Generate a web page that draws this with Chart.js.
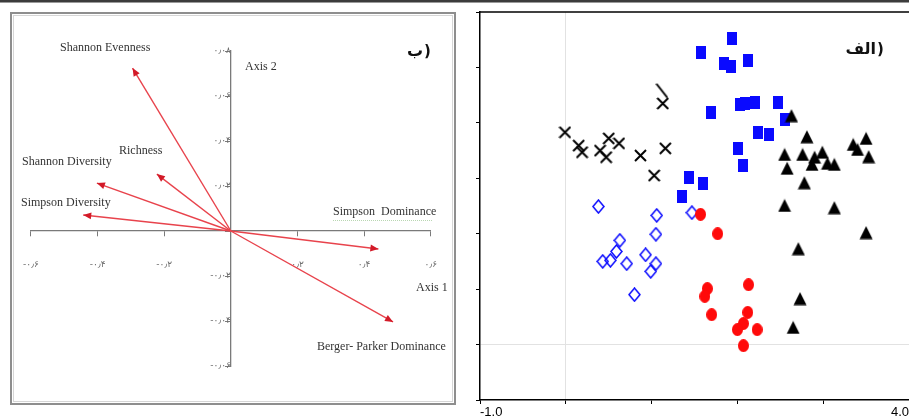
<!DOCTYPE html>
<html>
<head>
<meta charset="utf-8">
<script src="https://cdn.jsdelivr.net/npm/chart.js@4.4.1/dist/chart.umd.min.js"></script>
<style>
  html, body { margin: 0; padding: 0; background: #fff; }
  body { width: 909px; height: 419px; overflow: hidden; position: relative; }
  #topRule { position: absolute; left: 0; top: 0; width: 909px; height: 2px; background: #3c3c3c; border-bottom: 1px solid #9a9a9a; }
  #biplot { position: absolute; left: 0; top: 0; }
  #scatter { position: absolute; left: 460px; top: 0; }
</style>
</head>
<body>
<div id="topRule"></div>
<canvas id="biplot" width="460" height="419"></canvas>
<canvas id="scatter" width="450" height="419"></canvas>

<script>
/* ================================
   Data - biplot (panel ب)
================================ */
const arrowNames = [
  "Shannon Evenness",
  "Richness",
  "Shannon Diversity",
  "Simpson Diversity",
  "Simpson  Dominance",
  "Berger- Parker Dominance"
];
const arrowX = [-0.295, -0.222, -0.402, -0.443, 0.443, 0.487];
const arrowY = [0.0724, 0.0253, 0.0213, 0.0071, -0.008, -0.0404];

const biplotXTicks = ["-۰٫۶", "-۰٫۴", "-۰٫۲", "", "۰٫۲", "۰٫۴", "۰٫۶"];
const biplotYTicks = ["-۰٫۰۶", "-۰٫۰۴", "-۰٫۰۲", "", "۰٫۰۲", "۰٫۰۴", "۰٫۰۶", "۰٫۰۸"];

/* ================================
   Data - scatter (panel الف)
================================ */
const triangleX = [2.63, 2.81, 2.55, 2.76, 2.90, 2.99, 3.05, 3.13, 2.87, 2.58, 2.78, 3.35, 3.40, 3.50, 3.53, 2.55, 3.13, 3.50, 2.71, 2.73, 2.65];
const triangleY = [4.13, 3.75, 3.43, 3.43, 3.38, 3.47, 3.27, 3.25, 3.25, 3.18, 2.92, 3.61, 3.52, 3.72, 3.39, 2.51, 2.47, 2.02, 1.73, 0.83, 0.31];

const circleX = [1.57, 1.77, 2.13, 1.65, 1.62, 1.70, 2.12, 2.07, 2.00, 2.23, 2.07];
const circleY = [2.35, 2.00, 1.08, 1.01, 0.87, 0.54, 0.58, 0.38, 0.27, 0.27, -0.02];

const squareX = [1.94, 1.58, 1.84, 1.93, 2.12, 1.69, 2.03, 2.09, 2.20, 2.47, 2.55, 2.24, 2.37, 2.01, 2.07, 1.44, 1.60, 1.36];
const squareY = [5.52, 5.27, 5.07, 5.02, 5.13, 4.19, 4.33, 4.35, 4.37, 4.37, 4.06, 3.83, 3.79, 3.54, 3.23, 3.01, 2.91, 2.67];

const diamondX = [0.38, 1.06, 1.47, 1.05, 0.63, 0.59, 0.52, 0.43, 0.71, 0.93, 1.05, 0.99, 0.80];
const diamondY = [2.49, 2.33, 2.38, 1.99, 1.88, 1.68, 1.52, 1.50, 1.46, 1.62, 1.46, 1.32, 0.90];

const crossX = [-0.01, 0.15, 0.19, 0.40, 0.47, 0.50, 0.62, 0.87, 1.16, 1.03, 1.13];
const crossY = [3.83, 3.59, 3.47, 3.50, 3.38, 3.72, 3.63, 3.41, 3.54, 3.05, 4.35];

// half-drawn marker above the top cross
const strokeX = [1.12];
const strokeY = [4.58];

const scatterXTicks = ["-1.0", "", "", "", "", "4.0"];

/* ================================
   Helpers
================================ */
function zip(xs, ys) {
  return xs.map((x, i) => ({ x, y: ys[i] }));
}

function makeMarker(w, h, draw) {
  const c = document.createElement("canvas");
  c.width = w;
  c.height = h;
  draw(c.getContext("2d"), w, h);
  return c;
}

// panel letter: Persian word and its paren drawn apart, so bidi can't flip them
function drawPanelTag(ctx, word, rightEdge, y) {
  ctx.save();
  ctx.fillStyle = "#111";
  ctx.font = "bold 16px 'DejaVu Sans', sans-serif";
  ctx.textBaseline = "middle";
  ctx.textAlign = "right";
  ctx.fillText(word, rightEdge, y);
  ctx.textAlign = "left";
  ctx.font = "bold 15px 'DejaVu Sans', sans-serif";
  ctx.fillText(")", rightEdge + 1, y);
  ctx.restore();
}

const BLUE = "#0a0aff";
const RED = "#ff0a0a";
const ARROW_RED = "#e8434c";

const squareMarker = makeMarker(10, 13, (ctx, w, h) => {
  ctx.fillStyle = BLUE;
  ctx.fillRect(0, 0, w, h);
});

const circleMarker = makeMarker(11, 13, (ctx, w, h) => {
  ctx.fillStyle = RED;
  ctx.beginPath();
  ctx.ellipse(w / 2, h / 2, w / 2, h / 2, 0, 0, Math.PI * 2);
  ctx.fill();
});

const triangleMarker = makeMarker(14, 14, (ctx, w, h) => {
  ctx.fillStyle = "#000";
  ctx.beginPath();
  ctx.moveTo(w / 2, 0.5);
  ctx.lineTo(w - 0.5, h - 0.5);
  ctx.lineTo(0.5, h - 0.5);
  ctx.closePath();
  ctx.fill();
});

const diamondMarker = makeMarker(13, 15, (ctx, w, h) => {
  ctx.strokeStyle = BLUE;
  ctx.lineWidth = 1.5;
  ctx.beginPath();
  ctx.moveTo(w / 2, 1);
  ctx.lineTo(w - 1, h / 2);
  ctx.lineTo(w / 2, h - 1);
  ctx.lineTo(1, h / 2);
  ctx.closePath();
  ctx.stroke();
});

const crossMarker = makeMarker(13, 13, (ctx, w, h) => {
  ctx.strokeStyle = "#000";
  ctx.lineWidth = 2;
  ctx.beginPath();
  ctx.moveTo(1, 1);
  ctx.lineTo(w - 1, h - 1);
  ctx.moveTo(w - 1, 1);
  ctx.lineTo(1, h - 1);
  ctx.stroke();
});

const strokeMarker = makeMarker(13, 16, (ctx, w, h) => {
  ctx.strokeStyle = "#000";
  ctx.lineWidth = 2;
  ctx.beginPath();
  ctx.moveTo(1, 1);
  ctx.lineTo(w - 1, h - 1);
  ctx.stroke();
});

/* ================================
   Biplot decorations (box, arrowheads, labels)
================================ */
const biplotDecor = {
  id: "biplotDecor",
  beforeDraw(chart) {
    const ctx = chart.ctx;
    ctx.save();
    ctx.strokeStyle = "#8e8e8e";
    ctx.lineWidth = 2;
    ctx.strokeRect(11, 13, 444, 391);
    ctx.strokeStyle = "#d6d6d6";
    ctx.lineWidth = 1;
    ctx.strokeRect(13.5, 15.5, 439, 386);
    ctx.restore();
  },
  afterDatasetsDraw(chart) {
    const ctx = chart.ctx;
    ctx.save();
    ctx.fillStyle = "#d31a28";
    chart.data.datasets.forEach((ds, i) => {
      const pts = chart.getDatasetMeta(i).data;
      const a = pts[0], b = pts[1];
      const ang = Math.atan2(b.y - a.y, b.x - a.x);
      const len = 8, half = 3.5;
      ctx.beginPath();
      ctx.moveTo(b.x, b.y);
      ctx.lineTo(b.x - len * Math.cos(ang) + half * Math.sin(ang), b.y - len * Math.sin(ang) - half * Math.cos(ang));
      ctx.lineTo(b.x - len * Math.cos(ang) - half * Math.sin(ang), b.y - len * Math.sin(ang) + half * Math.cos(ang));
      ctx.closePath();
      ctx.fill();
    });

    ctx.fillStyle = "#333";
    ctx.font = "12px 'Liberation Serif', 'DejaVu Serif', serif";
    ctx.textBaseline = "middle";
    ctx.textAlign = "left";
    const labels = [
      [arrowNames[0], 60, 48],
      ["Axis 2", 245, 67],
      [arrowNames[1], 119, 151],
      [arrowNames[2], 22, 162],
      [arrowNames[3], 21, 203],
      [arrowNames[4], 333, 212],
      ["Axis 1", 416, 288],
      [arrowNames[5], 317, 347]
    ];
    labels.forEach(([t, x, y]) => ctx.fillText(t, x, y));

    // faint underline under Simpson Dominance
    ctx.strokeStyle = "#b9d7b2";
    ctx.setLineDash([1, 1]);
    ctx.beginPath();
    ctx.moveTo(333, 220.5);
    ctx.lineTo(433, 220.5);
    ctx.stroke();
    ctx.setLineDash([]);
    ctx.restore();

    drawPanelTag(ctx, "ب", 423, 52);
  }
};

/* ================================
   Biplot chart
================================ */
new Chart(document.getElementById("biplot"), {
  type: "scatter",
  data: {
    datasets: arrowNames.map((name, i) => ({
      label: name,
      data: [{ x: 0, y: 0 }, { x: arrowX[i], y: arrowY[i] }],
      showLine: true,
      borderColor: ARROW_RED,
      borderWidth: 1.4,
      pointRadius: 0
    }))
  },
  options: {
    responsive: false,
    animation: false,
    events: [],
    layout: { autoPadding: false, padding: { left: 28, right: 19, top: 51, bottom: 53 } },
    plugins: { legend: { display: false }, tooltip: { enabled: false } },
    scales: {
      x: {
        type: "linear",
        min: -0.6,
        max: 0.6,
        position: { y: 0 },
        afterFit: s => { s.height = 0; },
        grid: { drawOnChartArea: false, tickLength: 5, color: "#7a7a7a" },
        border: { color: "#7a7a7a", width: 1.3 },
        ticks: {
          stepSize: 0.2,
          padding: 23,
          color: "#6a6a6a",
          font: { size: 9, family: "'DejaVu Sans', sans-serif" },
          callback: (v, i) => biplotXTicks[i]
        }
      },
      y: {
        type: "linear",
        min: -0.06,
        max: 0.08,
        position: { x: 0 },
        afterFit: s => { s.width = 0; },
        grid: { drawOnChartArea: false, tickLength: 5, color: "#7a7a7a" },
        border: { color: "#7a7a7a", width: 1.3 },
        ticks: {
          stepSize: 0.02,
          padding: 3,
          color: "#6a6a6a",
          font: { size: 9, family: "'DejaVu Sans', sans-serif" },
          callback: (v, i) => biplotYTicks[i]
        }
      }
    }
  },
  plugins: [biplotDecor]
});

/* ================================
   Scatter decorations (top frame, label)
================================ */
const scatterDecor = {
  id: "scatterDecor",
  afterDraw(chart) {
    const { ctx, chartArea } = chart;
    ctx.save();
    ctx.strokeStyle = "#000";
    ctx.lineWidth = 1.5;
    ctx.beginPath();
    ctx.moveTo(chartArea.left, chartArea.top);
    ctx.lineTo(chartArea.right, chartArea.top);
    ctx.stroke();
    ctx.restore();

    drawPanelTag(ctx, "الف", 416, 50);
  }
};

/* ================================
   Scatter chart
================================ */
new Chart(document.getElementById("scatter"), {
  type: "scatter",
  data: {
    datasets: [
      { label: "triangle", data: zip(triangleX, triangleY), pointStyle: triangleMarker },
      { label: "circle", data: zip(circleX, circleY), pointStyle: circleMarker },
      { label: "square", data: zip(squareX, squareY), pointStyle: squareMarker },
      { label: "diamond", data: zip(diamondX, diamondY), pointStyle: diamondMarker },
      { label: "cross", data: zip(crossX, crossY), pointStyle: crossMarker },
      { label: "stroke", data: zip(strokeX, strokeY), pointStyle: strokeMarker }
    ]
  },
  options: {
    responsive: false,
    animation: false,
    events: [],
    layout: { autoPadding: false, padding: { left: 0, right: 0, top: 12, bottom: 0 } },
    plugins: { legend: { display: false }, tooltip: { enabled: false } },
    elements: { point: { radius: 7 } },
    scales: {
      x: {
        type: "linear",
        min: -1,
        max: 4,
        afterFit: s => { s.height = 19; },
        grid: {
          color: c => (c.tick && c.tick.value === 0 ? "#e2e2e2" : "rgba(0,0,0,0)"),
          tickColor: "#000",
          tickLength: 4
        },
        border: { color: "#000", width: 1.5 },
        ticks: {
          stepSize: 1,
          align: "inner",
          autoSkip: false,
          maxRotation: 0,
          padding: 1,
          color: "#000",
          font: { size: 13, family: "'Liberation Sans Narrow', 'Liberation Sans', sans-serif" },
          callback: (v, i) => scatterXTicks[i]
        }
      },
      y: {
        type: "linear",
        min: -1,
        max: 6,
        afterFit: s => { s.width = 20; },
        grid: {
          color: c => (c.tick && c.tick.value === 0 ? "#e2e2e2" : "rgba(0,0,0,0)"),
          tickColor: "#000",
          tickLength: 4
        },
        border: { color: "#000", width: 1.5 },
        ticks: { stepSize: 1, display: false }
      }
    }
  },
  plugins: [scatterDecor]
});
</script>
</body>
</html>
